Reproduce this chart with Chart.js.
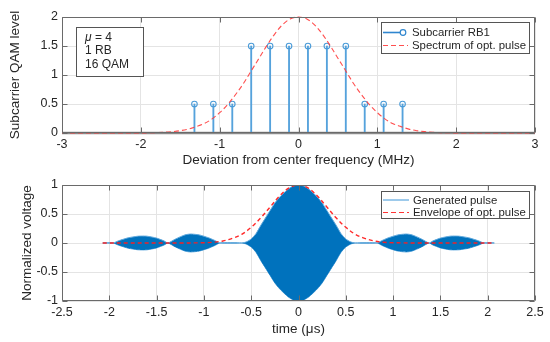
<!DOCTYPE html>
<html>
<head>
<meta charset="utf-8">
<script src="https://cdn.jsdelivr.net/npm/chart.js@4.4.1/dist/chart.umd.min.js"></script>
<style>
  html, body { margin: 0; padding: 0; background: #fff; }
  .wrap { width: 550px; height: 171px; }
</style>
</head>
<body>
<div class="wrap"><canvas id="topChart" width="550" height="171"></canvas></div>
<div class="wrap"><canvas id="bottomChart" width="550" height="171"></canvas></div>
<script>
// top panel: subcarrier levels (MHz / QAM level)
const subcarrierFreq = [-1.32, -1.08, -0.84, -0.60, -0.36, -0.12, 0.12, 0.36, 0.60, 0.84, 1.08, 1.32];
const subcarrierLevel = [0.5, 0.5, 0.5, 1.5, 1.5, 1.5, 1.5, 1.5, 1.5, 0.5, 0.5, 0.5];

const spectrumFreq = [-3, -2, -1.9, -1.8, -1.7, -1.6, -1.5, -1.4, -1.3, -1.2, -1.1, -1.0, -0.9, -0.8, -0.7, -0.6, -0.5, -0.4, -0.3, -0.2, -0.1,
  0, 0.1, 0.2, 0.3, 0.4, 0.5, 0.6, 0.7, 0.8, 0.9, 1.0, 1.1, 1.2, 1.3, 1.4, 1.5, 1.6, 1.7, 1.8, 1.9, 2, 3];
const spectrumLevel = [0, 0.002, 0.004, 0.007, 0.013, 0.024, 0.04, 0.067, 0.11, 0.16, 0.24, 0.35, 0.49, 0.66, 0.85, 1.07, 1.29, 1.51, 1.71, 1.87, 1.97,
  2, 1.97, 1.87, 1.71, 1.51, 1.29, 1.07, 0.85, 0.66, 0.49, 0.35, 0.24, 0.16, 0.11, 0.067, 0.04, 0.024, 0.013, 0.007, 0.004, 0.002, 0];

const baselineFreq = [-3, 3];
const baselineLevel = [0, 0];

const freqTicks = [-3, -2, -1, 0, 1, 2, 3];
const levelTicks = [0, 0.5, 1, 1.5, 2];

// bottom panel: generated pulse (upper / lower edge of the carrier) and envelope
const pulseTime = [-2.07, -1.96, -1.9, -1.8, -1.7, -1.66, -1.6, -1.5, -1.42, -1.38, -1.3, -1.2, -1.14, -1.05, -0.95, -0.88, -0.83,
  -0.6, -0.55, -0.5, -0.45, -0.4, -0.35, -0.3, -0.25, -0.2, -0.15, -0.1, -0.05, 0, 0.05, 0.1, 0.15, 0.2, 0.25, 0.3, 0.35, 0.4, 0.45, 0.5, 0.55, 0.6,
  0.83, 0.88, 0.95, 1.05, 1.14, 1.2, 1.3, 1.38, 1.42, 1.5, 1.6, 1.66, 1.7, 1.8, 1.9, 1.96, 2.07];
const pulseUpper = [0, 0, 0.04, 0.09, 0.117, 0.12, 0.117, 0.085, 0.035, 0, 0.07, 0.14, 0.155, 0.14, 0.09, 0.04, 0,
  0, 0.02, 0.07, 0.16, 0.3, 0.43, 0.56, 0.69, 0.79, 0.87, 0.94, 0.985, 1, 0.985, 0.94, 0.87, 0.79, 0.69, 0.56, 0.43, 0.3, 0.16, 0.07, 0.02, 0,
  0, 0.04, 0.09, 0.14, 0.155, 0.14, 0.07, 0, 0.035, 0.085, 0.117, 0.12, 0.117, 0.09, 0.04, 0, 0];
const pulseLower = [0, 0, -0.04, -0.09, -0.117, -0.12, -0.117, -0.085, -0.035, 0, -0.07, -0.14, -0.155, -0.14, -0.09, -0.04, 0,
  0, -0.02, -0.07, -0.16, -0.3, -0.43, -0.56, -0.69, -0.79, -0.87, -0.94, -0.985, -1, -0.985, -0.94, -0.87, -0.79, -0.69, -0.56, -0.43, -0.3, -0.16, -0.07, -0.02, 0,
  0, -0.04, -0.09, -0.14, -0.155, -0.14, -0.07, 0, -0.035, -0.085, -0.117, -0.12, -0.117, -0.09, -0.04, 0, 0];

const envTime = [-2.07, -1.2, -1.1, -1.0, -0.9, -0.8, -0.7, -0.6, -0.5, -0.4, -0.3, -0.2, -0.1, 0, 0.1, 0.2, 0.3, 0.4, 0.5, 0.6, 0.7, 0.8, 0.9, 1.0, 1.1, 1.2, 2.07];
const envLevel = [0, 0, 0.002, 0.005, 0.013, 0.035, 0.08, 0.15, 0.27, 0.43, 0.62, 0.81, 0.95, 1, 0.95, 0.81, 0.62, 0.43, 0.27, 0.15, 0.08, 0.035, 0.013, 0.005, 0.002, 0, 0];

const timeTicks = [-2.5, -2, -1.5, -1, -0.5, 0, 0.5, 1, 1.5, 2, 2.5];
const voltTicks = [-1, -0.5, 0, 0.5, 1];

const topLegend = ['Subcarrier RB1', 'Spectrum of opt. pulse'];
const bottomLegend = ['Generated pulse', 'Envelope of opt. pulse'];
const noteLines = [[['\u03bc', true], [' = 4', false]], [['1 RB', false]], [['16 QAM', false]]];

const pts = (xs, ys) => xs.map((x, i) => ({ x: x, y: ys[i] }));

Chart.defaults.font.family = '"Liberation Sans", Arial, sans-serif';
Chart.defaults.color = '#262626';

const FONT = '"Liberation Sans", Arial, sans-serif';

// matlab-like box, inward ticks, legend and note
const matlabBox = {
  id: 'matlabBox',
  afterDatasetsDraw(chart) {
    const { ctx, chartArea: a, scales } = chart;
    const L = Math.round(a.left) + 0.5, R = Math.round(a.right) - 0.5;
    const T = Math.round(a.top) + 0.5, B = Math.round(a.bottom) - 0.5;
    ctx.save();
    ctx.strokeStyle = '#6a6a6a';
    ctx.lineWidth = 1;
    ctx.beginPath();
    ctx.rect(L, T, R - L, B - T);
    scales.x.ticks.forEach(t => {
      const px = Math.round(scales.x.getPixelForValue(t.value)) + 0.5;
      ctx.moveTo(px, B); ctx.lineTo(px, B - 5);
      ctx.moveTo(px, T); ctx.lineTo(px, T + 5);
    });
    scales.y.ticks.forEach(t => {
      const py = Math.round(scales.y.getPixelForValue(t.value)) + 0.5;
      ctx.moveTo(L, py); ctx.lineTo(L + 5, py);
      ctx.moveTo(R, py); ctx.lineTo(R - 5, py);
    });
    ctx.stroke();
    ctx.restore();
  },
  afterDraw(chart, args, opts) {
    const ctx = chart.ctx;
    ctx.save();
    if (opts.legend) {
      const lg = opts.legend;
      ctx.fillStyle = '#fff';
      ctx.fillRect(lg.x, lg.y, lg.w, lg.h);
      ctx.strokeStyle = '#555';
      ctx.lineWidth = 1;
      ctx.strokeRect(lg.x + 0.5, lg.y + 0.5, lg.w, lg.h);
      ctx.font = '11.4px ' + FONT;
      ctx.textBaseline = 'middle';
      lg.items.forEach((it, i) => {
        const yy = lg.y + lg.rows[i];
        ctx.strokeStyle = it.color;
        ctx.lineWidth = it.width;
        ctx.setLineDash(it.dash || []);
        ctx.beginPath();
        ctx.moveTo(lg.x + 2, yy);
        ctx.lineTo(lg.x + it.len, yy);
        ctx.stroke();
        ctx.setLineDash([]);
        if (it.marker) {
          ctx.fillStyle = '#fff';
          ctx.lineWidth = 1.2;
          ctx.beginPath();
          ctx.arc(lg.x + it.len, yy, 2.8, 0, Math.PI * 2);
          ctx.fill();
          ctx.stroke();
        }
        ctx.fillStyle = '#262626';
        ctx.fillText(it.label, lg.x + lg.textX, yy + 0.5);
      });
    }
    if (opts.note) {
      const n = opts.note;
      ctx.fillStyle = '#fff';
      ctx.fillRect(n.x, n.y, n.w, n.h);
      ctx.strokeStyle = '#555';
      ctx.lineWidth = 1;
      ctx.strokeRect(n.x + 0.5, n.y + 0.5, n.w, n.h);
      ctx.textBaseline = 'middle';
      ctx.fillStyle = '#262626';
      n.lines.forEach((segs, i) => {
        let xx = n.x + 9;
        segs.forEach(([txt, it]) => {
          ctx.font = (it ? 'italic ' : '') + '12px ' + FONT;
          ctx.fillText(txt, xx, n.y + n.rows[i]);
          xx += ctx.measureText(txt).width;
        });
      });
    }
    ctx.restore();
  }
};

function axes(xTicks, yTicks, xTitle, yTitle, xMin, xMax, yMin, yMax, xh, titlePadY, titlePadX) {
  return {
    x: {
      type: 'linear', min: xMin, max: xMax, offset: false,
      afterBuildTicks: s => { s.ticks = xTicks.map(v => ({ value: v })); },
      afterFit: s => { s.height = xh; },
      ticks: { callback: v => String(v), padding: 4, font: { size: 12.5 }, maxRotation: 0, color: '#262626' },
      grid: { color: '#e4e4e4', drawTicks: false, offset: false },
      border: { display: false },
      title: { display: true, text: xTitle, font: { size: 13.5 }, padding: { top: 0, bottom: titlePadX }, color: '#262626' }
    },
    y: {
      min: yMin, max: yMax,
      afterBuildTicks: s => { s.ticks = yTicks.map(v => ({ value: v })); },
      afterFit: s => { s.width = 62; },
      ticks: { callback: v => String(v), padding: 4, font: { size: 12.5 }, color: '#262626' },
      grid: { color: '#e4e4e4', drawTicks: false },
      border: { display: false },
      title: { display: true, text: yTitle, font: { size: 13.5 }, padding: { top: titlePadY, bottom: 0 }, color: '#262626' }
    }
  };
}

new Chart(document.getElementById('topChart'), {
  type: 'line',
  data: {
    datasets: [
      {
        label: topLegend[1], data: pts(spectrumFreq, spectrumLevel),
        borderColor: 'rgba(255,60,60,0.9)', borderWidth: 1.1, borderDash: [5, 3],
        pointRadius: 0, tension: 0.35, fill: false, clip: 4
      },
      {
        type: 'scatter', label: topLegend[0] + ' markers', data: pts(subcarrierFreq, subcarrierLevel),
        pointStyle: 'circle', pointRadius: 2.8, pointBorderWidth: 1.1,
        pointBorderColor: '#4a9bd8', pointBackgroundColor: 'rgba(255,255,255,0)', showLine: false
      },
      {
        type: 'bar', label: topLegend[0], data: pts(subcarrierFreq, subcarrierLevel),
        backgroundColor: '#55a2dc', barThickness: 1.2
      },
      {
        label: 'baseline', data: pts(baselineFreq, baselineLevel),
        borderColor: '#8a8a8a', borderWidth: 2.6, pointRadius: 0, fill: false, clip: 4
      }
    ]
  },
  options: {
    responsive: false, animation: false,
    layout: { padding: { top: 17, right: 15, left: 0, bottom: 0 } },
    plugins: {
      legend: { display: false }, tooltip: { enabled: false },
      matlabBox: {
        legend: {
          x: 381, y: 22, w: 148, h: 31, rows: [10.5, 23.5], textX: 31,
          items: [
            { label: topLegend[0], color: '#2f86cf', width: 1.6, len: 22, marker: true },
            { label: topLegend[1], color: 'rgba(255,60,60,0.9)', width: 1.1, dash: [5, 3], len: 27 }
          ]
        },
        note: { x: 76, y: 27, w: 67, h: 49, rows: [10.5, 24, 37.5], lines: noteLines }
      }
    },
    scales: axes(freqTicks, levelTicks, 'Deviation from center frequency (MHz)', 'Subcarrier QAM level', -3, 3, 0, 2, 38, 7, 3)
  },
  plugins: [matlabBox]
});

new Chart(document.getElementById('bottomChart'), {
  type: 'line',
  data: {
    datasets: [
      {
        label: bottomLegend[1], data: pts(envTime, envLevel),
        borderColor: 'rgba(255,30,30,0.95)', borderWidth: 1.4, borderDash: [4, 3],
        pointRadius: 0, tension: 0.35, fill: false
      },
      {
        label: bottomLegend[0], data: pts(pulseTime, pulseUpper),
        borderColor: '#5fa8dd', borderWidth: 1, backgroundColor: '#0072BD',
        pointRadius: 0, tension: 0.2, fill: '+1'
      },
      {
        label: 'lower', data: pts(pulseTime, pulseLower),
        borderColor: '#5fa8dd', borderWidth: 1,
        pointRadius: 0, tension: 0.2, fill: false
      }
    ]
  },
  options: {
    responsive: false, animation: false,
    layout: { padding: { top: 14, right: 15, left: 0, bottom: 0 } },
    plugins: {
      legend: { display: false }, tooltip: { enabled: false },
      filler: { propagate: false },
      matlabBox: {
        legend: {
          x: 381, y: 20, w: 148, h: 27, rows: [9, 21.5], textX: 32,
          items: [
            { label: bottomLegend[0], color: '#3d95d8', width: 1, len: 28 },
            { label: bottomLegend[1], color: 'rgba(255,30,30,0.9)', width: 1.2, dash: [5, 3], len: 28 }
          ]
        }
      }
    },
    scales: axes(timeTicks, voltTicks, 'time (\u03bcs)', 'Normalized voltage', -2.5, 2.5, -1, 1, 41, 19, 5)
  },
  plugins: [matlabBox]
});
</script>
</body>
</html>
